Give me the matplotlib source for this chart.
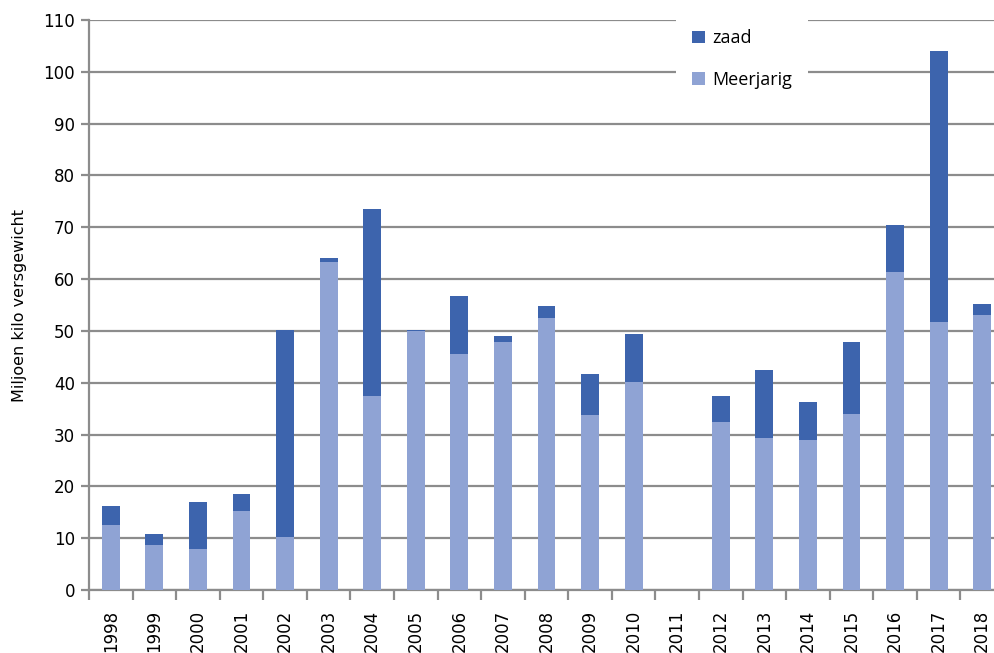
import numpy as np
import matplotlib.pyplot as plt

# Aanvoer per jaar (miljoen kilo versgewicht)
years = [str(y) for y in range(1998, 2019)]
meerjarig = [12.5, 8.6, 7.9, 15.2, 10.2, 63.3, 37.5, 50.0, 45.6, 47.9, 52.5,
             33.7, 40.2, 0.0, 32.4, 29.4, 29.0, 34.0, 61.4, 51.7, 53.0]
totaal = [16.2, 10.9, 17.0, 18.6, 50.2, 64.0, 73.6, 50.2, 56.8, 49.0, 54.8,
          41.7, 49.4, 0.0, 37.5, 42.5, 36.3, 47.8, 70.5, 104.1, 55.2]
zaad = [t - m for t, m in zip(totaal, meerjarig)]

dark_blue = '#3d64ad'
light_blue = '#8fa3d4'
grid_grey = '#8c8c8c'

W, H = 995, 653
fig = plt.figure(figsize=(W / 100, H / 100), dpi=100)
# plot area runs a little past the right edge of the figure
ax = fig.add_axes([89 / W, (H - 590) / H, (1004 - 89) / W, (590 - 20) / H])

x = np.arange(len(years))
bar_w = 0.41
ax.bar(x, meerjarig, width=bar_w, color=light_blue, label='Meerjarig', zorder=3)
ax.bar(x, zaad, width=bar_w, bottom=meerjarig, color=dark_blue, label='zaad', zorder=3)

ax.set_xlim(-0.5, len(years) - 0.5)
ax.set_ylim(0, 110)
ax.set_yticks(np.arange(0, 111, 10))
ax.yaxis.grid(True, color=grid_grey, linewidth=1.6)
ax.set_axisbelow(True)

# tick marks between the years, labels under the bars
ax.set_xticks(np.arange(len(years) + 1) - 0.5)
ax.set_xticklabels([])
ax.set_xticks(x, minor=True)
ax.set_xticklabels(years, minor=True, rotation=90, fontsize=12)
ax.tick_params(axis='x', which='major', length=7, width=1.6, color=grid_grey)
ax.tick_params(axis='x', which='minor', length=0, pad=14)
ax.tick_params(axis='y', length=6, width=1.6, color=grid_grey, labelsize=12, pad=4)

for side in ['top', 'right']:
    ax.spines[side].set_visible(False)
for side in ['left', 'bottom']:
    ax.spines[side].set_color(grid_grey)
    ax.spines[side].set_linewidth(1.6)

ax.set_ylabel('Miljoen kilo versgewicht', fontsize=11.5, labelpad=12)

handles, labels = ax.get_legend_handles_labels()
leg = fig.legend(handles[::-1], labels[::-1], loc='upper left',
                 bbox_to_anchor=(676 / W, (H - 13) / H),
                 prop={'family': 'Open Sans', 'size': 13},
                 frameon=True, facecolor='white', edgecolor='none', fancybox=False,
                 handlelength=0.7, handleheight=0.7, handletextpad=0.4,
                 labelspacing=1.3, borderpad=0.9, borderaxespad=0)
leg.get_frame().set_alpha(1)

fig.savefig('out.png', dpi=100)
